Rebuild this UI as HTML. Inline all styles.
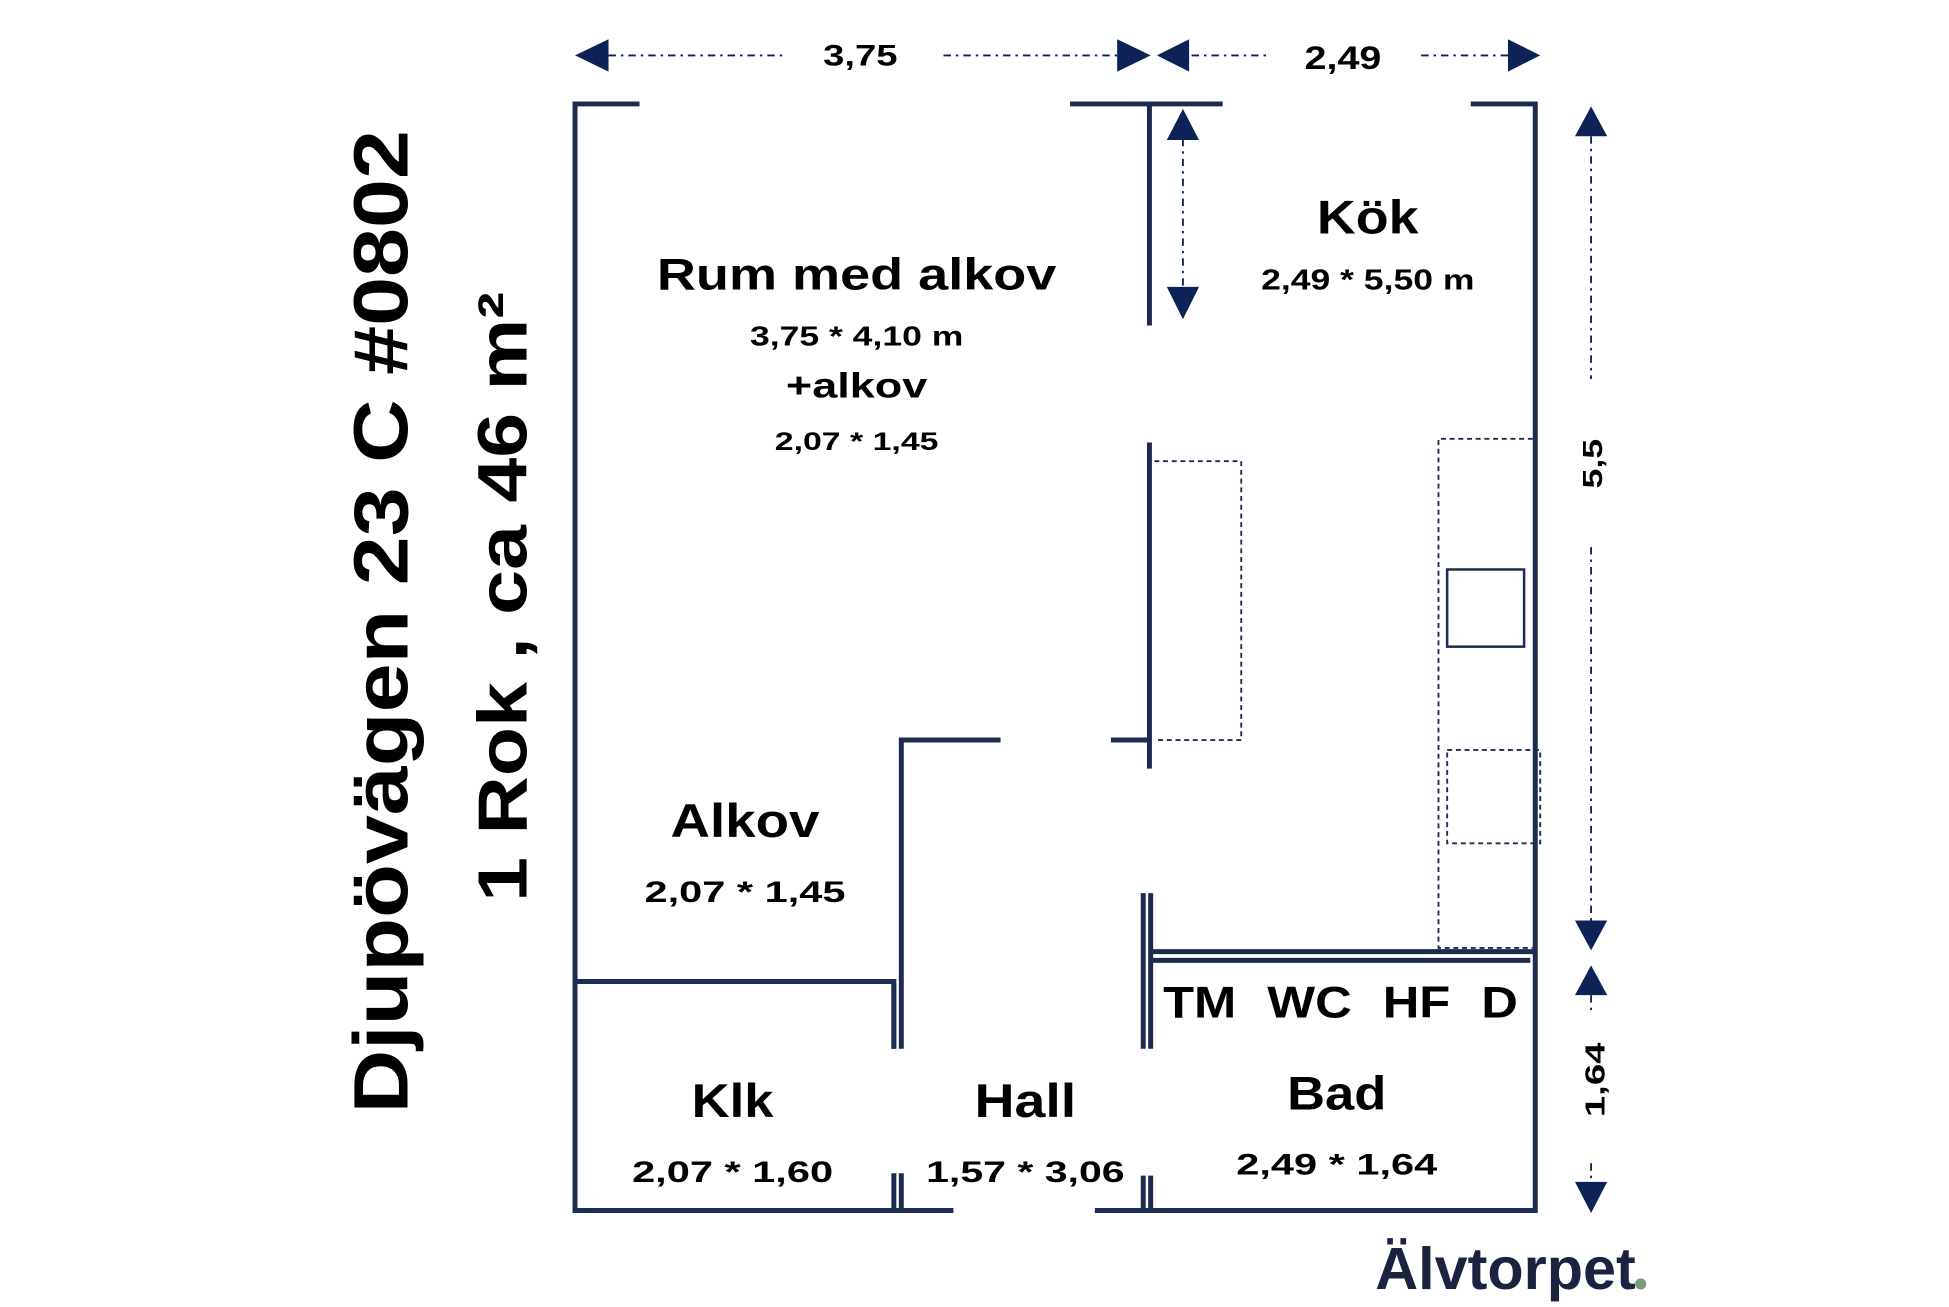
<!DOCTYPE html>
<html><head><meta charset="utf-8"><style>
html,body{margin:0;padding:0;background:#fff;}
svg{display:block;}
text{font-family:"Liberation Sans",sans-serif;font-weight:bold;fill:#000;}
</style></head><body>
<svg width="1949" height="1307" viewBox="-0.5 0.5 1571 1050" preserveAspectRatio="none" xmlns="http://www.w3.org/2000/svg">
<rect x="-1" y="0" width="1573" height="1052" fill="#fff"/>
<g stroke="#1c2b4f" stroke-width="4" fill="none" stroke-linecap="butt">
<path d="M515 84 H463 V973 H768"/>
<path d="M862 84 H985"/>
<path d="M1185 84 H1237 V973 H882"/>
<path d="M926 84 V262"/>
<path d="M926 356 V618"/>
<path d="M895 595 H926"/>
<path d="M921 718 V843 M927 718 V843"/>
<path d="M921 945 V973 M927 945 V973"/>
<path d="M806 595 H726 V843"/>
<path d="M720 790 V843"/>
<path d="M463 789 H720 V843"/>
<path d="M720 943 V973 M726 943 V973"/>
<path d="M927 765 H1237 M927 772 H1233"/>
</g>
<g stroke="#1c2b4f" stroke-width="1.5" fill="none" stroke-dasharray="4,3">
<path d="M930 371 H1000 V595 H930"/>
<path d="M1235 353 H1159 V762 H1235"/>
<rect x="1166" y="603" width="75" height="75"/>
</g>
<rect x="1166" y="458" width="62" height="62" fill="none" stroke="#1c2b4f" stroke-width="2"/>
<g stroke="#0d2357" stroke-width="1.5" fill="none" stroke-dasharray="6,4,2,4">
<path d="M490 45 H630 M760 45 H902"/>
<path d="M960 45 H1020 M1145 45 H1215"/>
<path d="M953 112 V230"/>
<path d="M1282 110 V305 M1282 440 V740"/>
<path d="M1282 800 V815 M1282 935 V950"/>
</g>
<g fill="#0d2357">
<polygon points="463,45 490,32 490,58"/>
<polygon points="927,45 900,32 900,58"/>
<polygon points="932,45 958,32 958,58"/>
<polygon points="1241,45 1215,32 1215,58"/>
<polygon points="953,88 940,113 966,113"/>
<polygon points="953,257 940,231 966,231"/>
<polygon points="1282,86 1269,110 1295,110"/>
<polygon points="1282,764 1269,740 1295,740"/>
<polygon points="1282,776 1269,800 1295,800"/>
<polygon points="1282,975 1269,950 1295,950"/>
</g>
<text x="693" y="53" font-size="24" text-anchor="middle" textLength="60" lengthAdjust="spacingAndGlyphs">3,75</text>
<text x="1082" y="56" font-size="26" text-anchor="middle" textLength="62" lengthAdjust="spacingAndGlyphs">2,49</text>
<text transform="translate(1291,373) rotate(-90)" font-size="22" text-anchor="middle" textLength="40" lengthAdjust="spacingAndGlyphs">5,5</text>
<text transform="translate(1293,868) rotate(-90)" font-size="22" text-anchor="middle" textLength="60" lengthAdjust="spacingAndGlyphs">1,64</text>
<text x="690" y="233" font-size="36" text-anchor="middle" textLength="322" lengthAdjust="spacingAndGlyphs">Rum med alkov</text>
<text x="690" y="278" font-size="22" text-anchor="middle" textLength="172" lengthAdjust="spacingAndGlyphs">3,75 * 4,10 m</text>
<text x="690" y="320" font-size="28" text-anchor="middle" textLength="114" lengthAdjust="spacingAndGlyphs">+alkov</text>
<text x="690" y="362" font-size="20" text-anchor="middle" textLength="132" lengthAdjust="spacingAndGlyphs">2,07 * 1,45</text>
<text x="1102" y="188" font-size="38" text-anchor="middle" textLength="82" lengthAdjust="spacingAndGlyphs">Kök</text>
<text x="1102" y="233" font-size="23" text-anchor="middle" textLength="172" lengthAdjust="spacingAndGlyphs">2,49 * 5,50 m</text>
<text x="600" y="673" font-size="38" text-anchor="middle" textLength="120" lengthAdjust="spacingAndGlyphs">Alkov</text>
<text x="600" y="725" font-size="24" text-anchor="middle" textLength="162" lengthAdjust="spacingAndGlyphs">2,07 * 1,45</text>
<text x="590" y="898" font-size="38" text-anchor="middle" textLength="66" lengthAdjust="spacingAndGlyphs">Klk</text>
<text x="590" y="950" font-size="24" text-anchor="middle" textLength="162" lengthAdjust="spacingAndGlyphs">2,07 * 1,60</text>
<text x="826" y="898" font-size="38" text-anchor="middle" textLength="82" lengthAdjust="spacingAndGlyphs">Hall</text>
<text x="826" y="950" font-size="24" text-anchor="middle" textLength="160" lengthAdjust="spacingAndGlyphs">1,57 * 3,06</text>
<text x="1080" y="818" font-size="36" text-anchor="middle" textLength="286" lengthAdjust="spacingAndGlyphs" word-spacing="12">TM  WC  HF  D</text>
<text x="1077" y="892" font-size="38" text-anchor="middle" textLength="80" lengthAdjust="spacingAndGlyphs">Bad</text>
<text x="1077" y="944" font-size="24" text-anchor="middle" textLength="162" lengthAdjust="spacingAndGlyphs">2,49 * 1,64</text>
<text transform="translate(328,500) rotate(-90)" font-size="62" text-anchor="middle" textLength="790" lengthAdjust="spacingAndGlyphs">Djupövägen 23 C #0802</text>
<text transform="translate(424,480) rotate(-90)" font-size="56" text-anchor="middle" textLength="490" lengthAdjust="spacingAndGlyphs">1 Rok , ca 46 m²</text>
<text x="1108" y="1036" font-size="48" style="fill:#1c2340" textLength="210" lengthAdjust="spacingAndGlyphs">Älvtorpet</text>
<circle cx="1322" cy="1032" r="4.5" fill="#7a9a78"/>
</svg>
</body></html>
